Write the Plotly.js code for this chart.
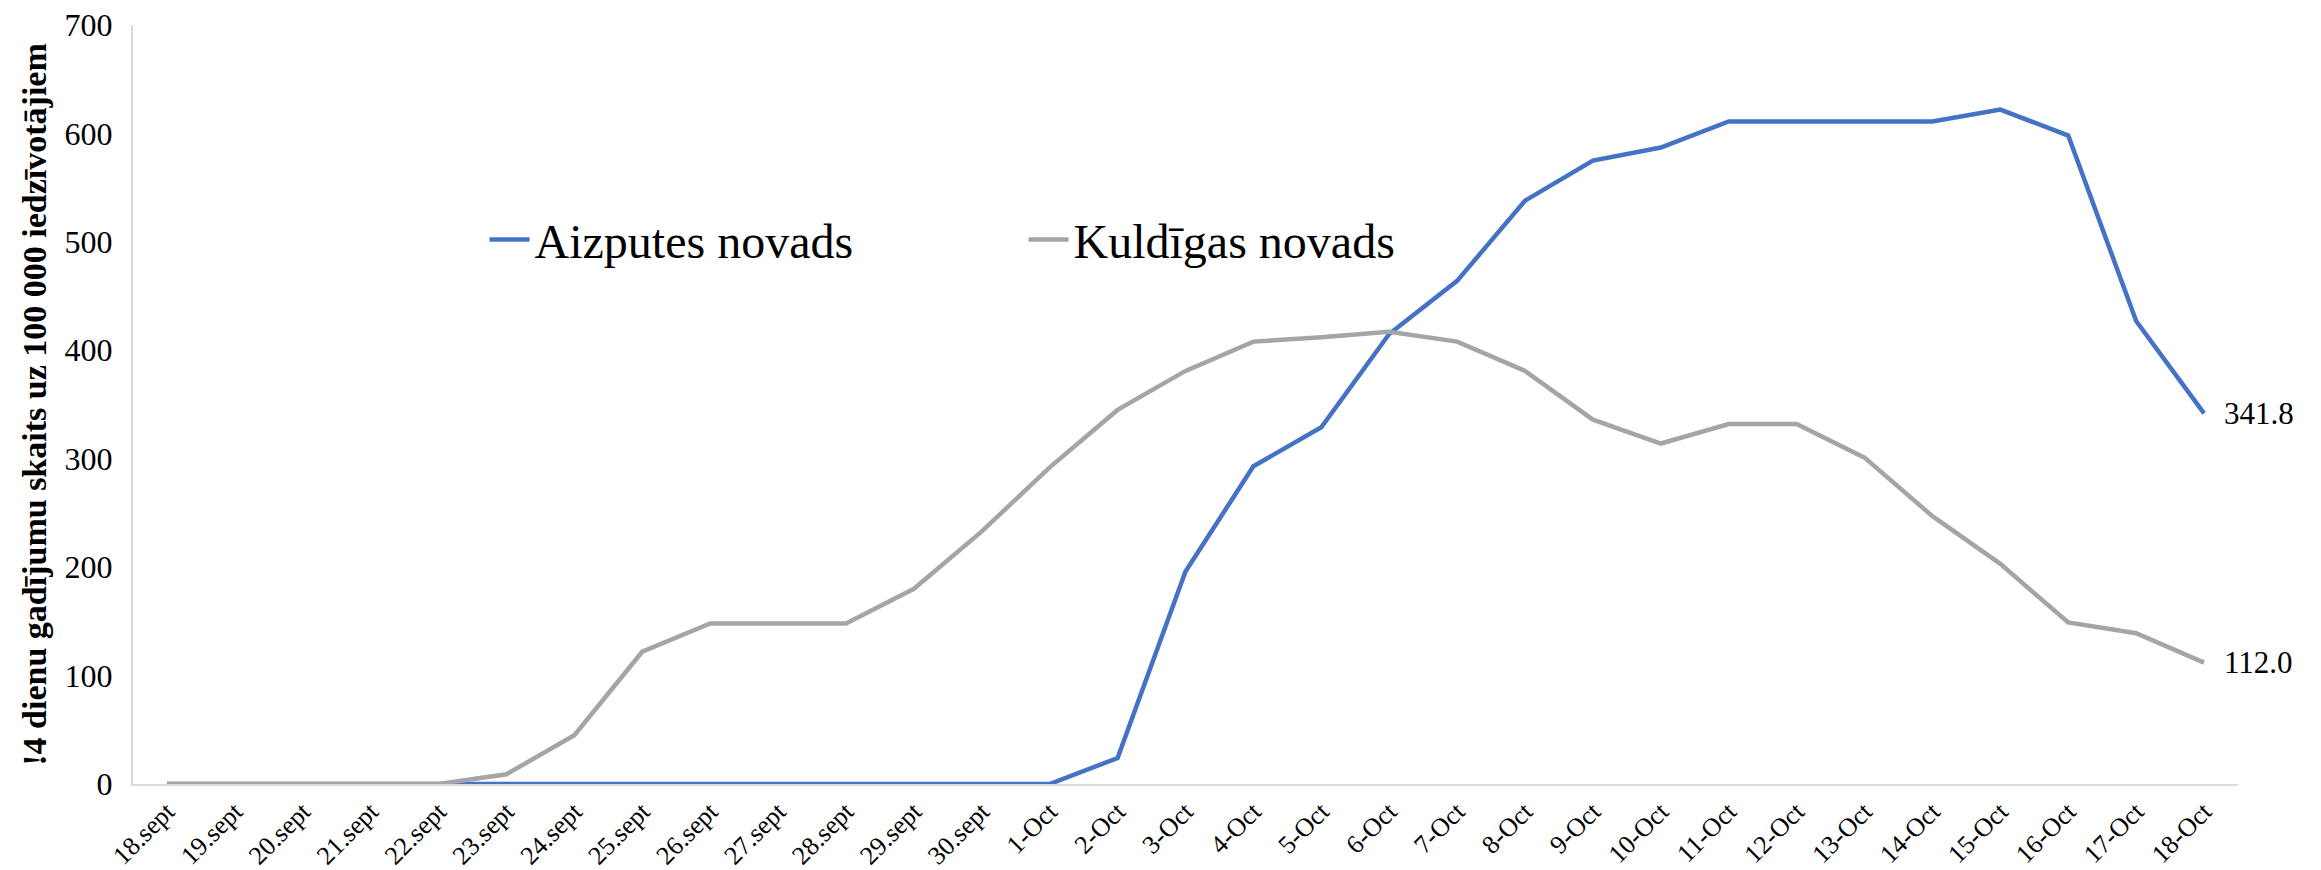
<!DOCTYPE html>
<html>
<head>
<meta charset="utf-8">
<script src="https://cdn.plot.ly/plotly-3.0.1.min.js"></script>
<style>html,body{margin:0;padding:0;background:#fff;}#chart{width:2321px;height:870px;}</style>
</head>
<body>
<div id="chart"></div>
<script>
var categories = ["18.sept","19.sept","20.sept","21.sept","22.sept","23.sept","24.sept","25.sept","26.sept","27.sept","28.sept","29.sept","30.sept",
  "1-Oct","2-Oct","3-Oct","4-Oct","5-Oct","6-Oct","7-Oct","8-Oct","9-Oct","10-Oct","11-Oct","12-Oct","13-Oct","14-Oct","15-Oct","16-Oct","17-Oct","18-Oct"];
var aizputes = [0,0,0,0,0,0,0,0,0,0,0,0,0,0,24,196,293,329,415,464,538,575,587,611,611,611,611,622,598,427,341.8];
var kuldigas = [0,0,0,0,0,9,45,122,148,148,148,180,233,292,345,381,408,412,417,408,381,336,314,332,332,301,247,203,149,139,112.0];
var seriesNames = ["Aizputes novads","Kuldīgas novads"];
var seriesColors = ["#4472C4","#A5A5A5"];
var yTitle = "!4 dienu gadījumu skaits uz 100 000 iedzīvotājiem";

var font = "Liberation Serif, Times New Roman, serif";
var n = categories.length;

var traces = [
  {x: categories, y: aizputes, name: seriesNames[0], type: "scatter", mode: "lines",
   line: {color: seriesColors[0], width: 4.5}, hoverinfo: "x+y"},
  {x: categories, y: kuldigas, name: seriesNames[1], type: "scatter", mode: "lines",
   line: {color: seriesColors[1], width: 4.5}, hoverinfo: "x+y"}
];

var endLabels = [aizputes, kuldigas].map(function(arr){
  return {x: categories[n-1], y: arr[n-1], text: arr[n-1].toFixed(1), xref: "x", yref: "y",
    showarrow: false, xanchor: "left", yanchor: "middle", xshift: 18,
    font: {family: font, size: 31, color: "#000"}};
});

var layout = {
  width: 2321, height: 870,
  margin: {l: 133, r: 83, t: 25, b: 86},
  paper_bgcolor: "#fff", plot_bgcolor: "#fff",
  font: {family: font, color: "#000"},
  showlegend: true,
  annotations: endLabels,
  legend: {orientation: "h", x: 0.167, y: 0.717, xanchor: "left", yanchor: "middle",
    font: {family: font, size: 48, color: "#000"}, entrywidth: 484, entrywidthmode: "pixels",
    itemwidth: 40, bgcolor: "rgba(0,0,0,0)"},
  xaxis: {type: "category", range: [-0.5, 30.5], showgrid: false, zeroline: false,
    showline: true, linecolor: "#D9D9D9", linewidth: 2, ticks: "", tickangle: -45,
    tickfont: {family: font, size: 26, color: "#000"}, automargin: false},
  yaxis: {range: [0, 700], dtick: 100, showgrid: false, zeroline: false,
    showline: true, linecolor: "#D9D9D9", linewidth: 2, ticks: "",
    ticklabelstandoff: 12,
    tickfont: {family: font, size: 32, color: "#000"}, automargin: false,
    title: {text: "<b>" + yTitle + "</b>", font: {family: font, size: 34, color: "#000"}, standoff: 8}}
};

Plotly.newPlot("chart", traces, layout, {displayModeBar: false, staticPlot: true});
</script>
</body>
</html>
